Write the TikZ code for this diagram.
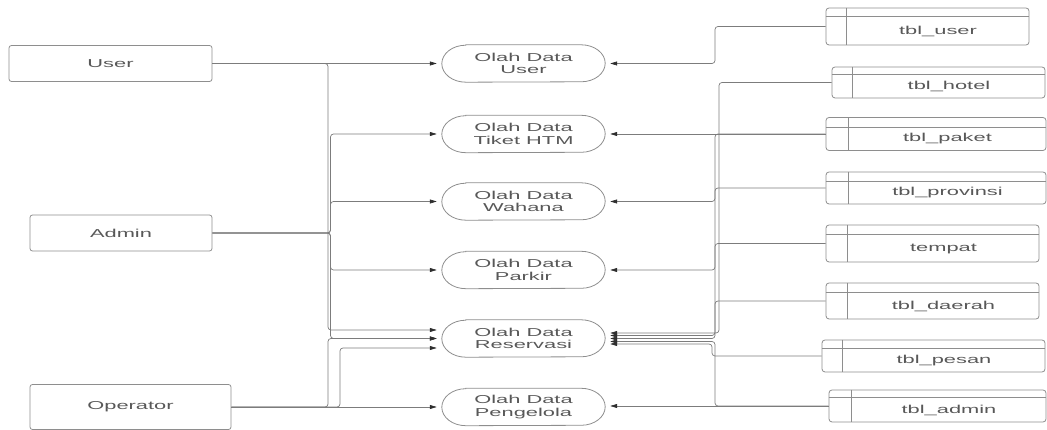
\documentclass[tikz,border=0pt]{standalone}
\usepackage{fontspec}
\setmainfont[FakeStretch=1.9]{Liberation Sans}
\usetikzlibrary{arrows.meta,calc}
\definecolor{linec}{HTML}{7C7C7C}
\definecolor{edgec}{HTML}{8E8E8E}
\definecolor{tipc}{HTML}{2E2E2E}
\definecolor{textc}{HTML}{585858}

\begin{document}
\begin{tikzpicture}[x=1pt,y=1pt,
  txt/.style={font=\fontsize{11.5}{12.5}\selectfont, text=textc},
  actor/.style={txt, draw=edgec, line width=0.8pt, rounded corners=2.5pt, inner sep=0pt},
  proc/.style={txt, align=center, inner sep=0pt, minimum width=163pt, minimum height=37pt},
  procline/.style={draw=edgec, line width=0.8pt},
  tbl/.style={draw=edgec, line width=0.8pt, rounded corners=3pt, inner sep=0pt},
  tline/.style={edgec, line width=0.8pt},
  flow/.style={linec, line width=0.7pt, rounded corners=3pt,
    -{Triangle[length=7pt,width=4pt,color=tipc]}, shorten >=5pt},
]
\useasboundingbox (0,0) rectangle (1047,430);

% external entities
\node[actor, minimum width=203pt, minimum height=36pt] (aUser)  at (110.5,366.5) {User};
\node[actor, minimum width=182pt, minimum height=36pt] (aAdmin) at (121,197)     {Admin};
\node[actor, minimum width=201pt, minimum height=45pt] (aOper)  at (130.5,23)    {Operator};

% processes
\node[proc] (pUser)   at (523.5,366.5) {Olah Data\\User};
\node[proc] (pTiket)  at (523.5,296)   {Olah Data\\Tiket HTM};
\node[proc] (pWahana) at (523.5,228.5) {Olah Data\\Wahana};
\node[proc] (pParkir) at (523.5,160)   {Olah Data\\Parkir};
\node[proc] (pRes)    at (523.5,91.5)  {Olah Data\\Reservasi};
\node[proc] (pPeng)   at (523.5,23)    {Olah Data\\Pengelola};

% process outlines with elliptical ends
\foreach \n in {pUser,pTiket,pWahana,pParkir,pRes,pPeng}{
  \draw[procline] ([xshift=24pt]\n.north west) -- ([xshift=-24pt]\n.north east)
    arc[start angle=90,end angle=-90,x radius=24pt,y radius=18.5pt]
    -- ([xshift=24pt]\n.south west)
    arc[start angle=270,end angle=90,x radius=24pt,y radius=18.5pt] -- cycle;
}

% data stores
\node[tbl, minimum width=203pt, minimum height=37pt] (tUser)   at (927.5,403.5) {};
\node[tbl, minimum width=213pt, minimum height=31pt] (tHotel)  at (938.5,347.5) {};
\node[tbl, minimum width=220pt, minimum height=33pt] (tPaket)  at (936,296)     {};
\node[tbl, minimum width=220pt, minimum height=32pt] (tProv)   at (936,242)     {};
\node[tbl, minimum width=213pt, minimum height=37pt] (tTempat) at (932.5,186.5) {};
\node[tbl, minimum width=213pt, minimum height=36pt] (tDaerah) at (932.5,129)   {};
\node[tbl, minimum width=223pt, minimum height=32pt] (tPesan)  at (933.5,74)    {};
\node[tbl, minimum width=217pt, minimum height=32pt] (tAdmin)  at (937.5,24)    {};

\foreach \t/\d/\h/\s in {tUser/21/9/tbl\_user, tHotel/21/8/tbl\_hotel,
    tPaket/23/10/tbl\_paket, tProv/23/10/tbl\_provinsi, tTempat/22/10/tempat,
    tDaerah/22/10/tbl\_daerah, tPesan/21/9/tbl\_pesan, tAdmin/23/8/tbl\_admin}{
  \draw[tline] ([xshift=\d pt]\t.north west) -- ([xshift=\d pt]\t.south west);
  \draw[tline] ([yshift=-\h pt]\t.north west) -- ([yshift=-\h pt]\t.north east);
  \node[txt] (\t L) at ([xshift=\d pt/2,yshift=-\h pt/2]\t.center) {\s};
}

% bus lines
\coordinate (busL) at (328,0);
\coordinate (busA) at (330.5,0);
\coordinate (busO) at (340,0);
\coordinate (busR) at (715,0);
\coordinate (busH) at (719,0);
\coordinate (busP) at (712,0);

% entry points on Reservasi
\coordinate (rIn1)  at ([yshift=8.5pt]pRes.west);
\coordinate (rIn2)  at (pRes.west);
\coordinate (rIn3)  at ([yshift=-9.5pt]pRes.west);
\coordinate (rOut1) at ([yshift=5.5pt]pRes.east);
\coordinate (rOut2) at ([yshift=3pt]pRes.east);
\coordinate (rOut3) at (pRes.east);
\coordinate (rOut4) at ([yshift=-3pt]pRes.east);
\coordinate (rOut5) at ([yshift=-5.5pt]pRes.east);

% entity flows
\draw[flow] (aUser.east) -- (pUser.west);
\draw[flow] (aUser.east) -- (aUser.east -| busL) -- (busL |- rIn1) -- (rIn1);
\foreach \p in {pTiket,pWahana,pParkir}{
  \draw[flow] (aAdmin.east) -- (aAdmin.east -| busA) -- (busA |- \p.west) -- (\p.west);
}
\draw[flow] (aAdmin.east) -- (aAdmin.east -| busA) -- (busA |- rIn2) -- (rIn2);
\draw[flow] (aOper.east) -- (pPeng.west);
\draw[flow] (aOper.east) -- (aOper.east -| busL) -- (busL |- rIn2) -- (rIn2);
\draw[flow] (aOper.east) -- (aOper.east -| busO) -- (busO |- rIn3) -- (rIn3);

% data store flows
\draw[flow] (tUser.west) -- (tUser.west -| busR) -- (busR |- pUser.east) -- (pUser.east);
\draw[flow] (tHotel.west) -- (tHotel.west -| busH) -- (busH |- rOut1) -- (rOut1);
\draw[flow] (tPaket.west) -- (pTiket.east);
\draw[flow] (tPaket.west) -- (tPaket.west -| busR) -- (busR |- rOut2) -- (rOut2);
\draw[flow] (tProv.west) -- (tProv.west -| busR) -- (busR |- pWahana.east) -- (pWahana.east);
\draw[flow] (tTempat.west) -- (tTempat.west -| busR) -- (busR |- pParkir.east) -- (pParkir.east);
\draw[flow] (tDaerah.west) -- (tDaerah.west -| busR) -- (busR |- rOut3) -- (rOut3);
\draw[flow] (tAdmin.west) -- (pPeng.east |- tAdmin.west);
\draw[flow] (tAdmin.west) -- (tAdmin.west -| busR) -- (busR |- rOut4) -- (rOut4);
\draw[flow] (tPesan.west) -- (tPesan.west -| busP) -- (busP |- rOut5) -- (rOut5);
\end{tikzpicture}
\end{document}
